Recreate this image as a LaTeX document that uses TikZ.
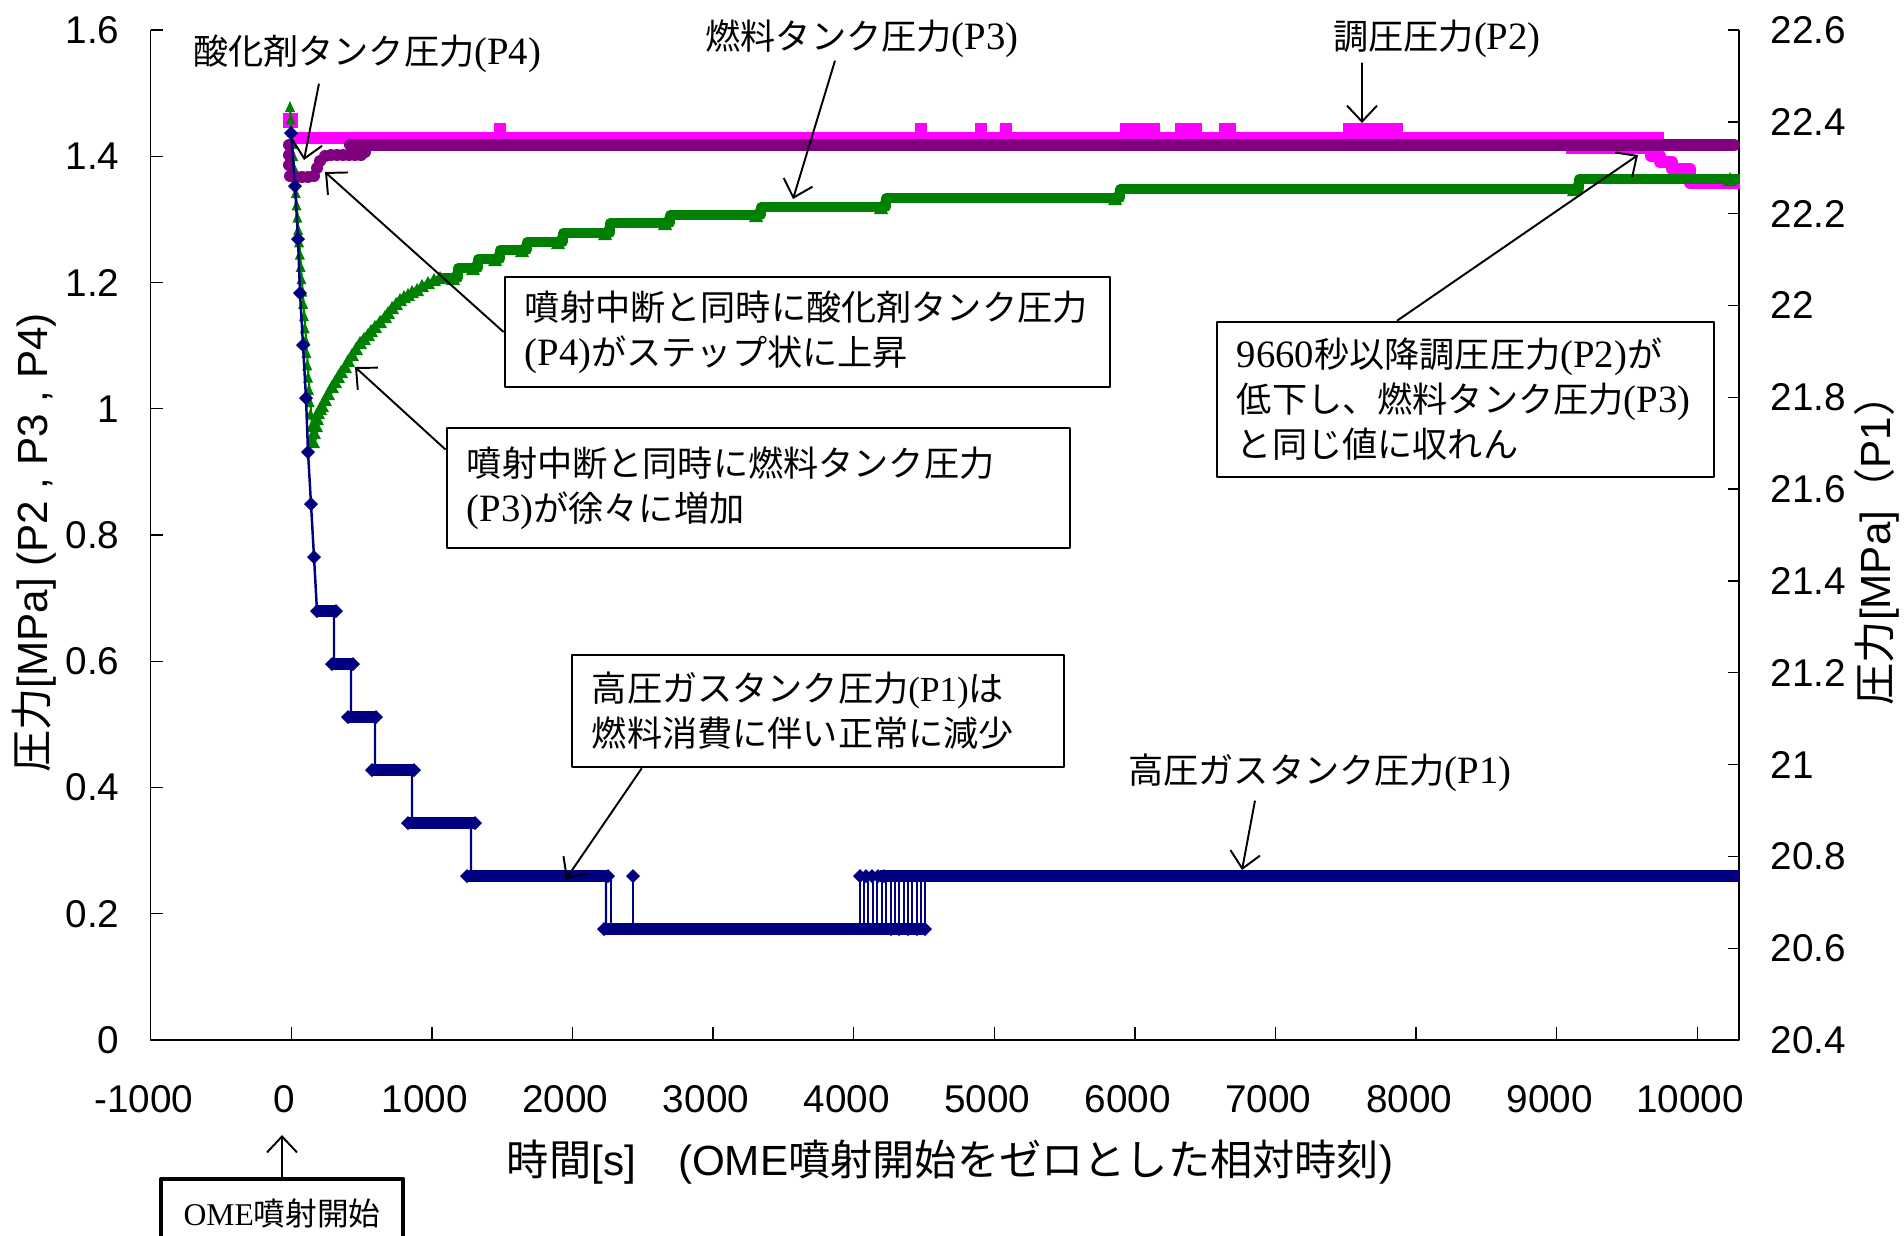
\documentclass[tikz,border=0pt]{standalone}
\usepackage{fontspec}
\setmainfont{Liberation Sans}
\newfontfamily\jpf{Noto Sans CJK JP}
\newfontfamily\tms{Liberation Serif}
\newcommand\ptag[1]{{\tms\fontsize{11}{12.8}\selectfont #1}}
\usetikzlibrary{arrows.meta}
\definecolor{pmag}{RGB}{255,0,255}
\definecolor{ppur}{RGB}{128,0,128}
\definecolor{pgrn}{RGB}{0,128,0}
\definecolor{pnav}{RGB}{0,0,128}
\begin{document}
\begin{tikzpicture}[x=0.01cm,y=-0.01cm,line join=round,>={Straight Barb[length=1.6mm,width=3mm]}]
	\tikzset{tick label/.style={font=\fontsize{11}{13}\selectfont,inner sep=0pt},
		axis title/.style={font=\fontsize{12}{14}\selectfont,inner sep=0pt},
		note/.style={draw,line width=0.7pt,fill=white,align=left,inner xsep=0.2cm,inner ysep=0pt,font=\jpf\fontsize{10}{12.8}\selectfont},
		tag/.style={inner sep=0pt,font=\jpf\fontsize{10}{12.8}\selectfont},
		pointer/.style={->,line width=0.55pt}}
	\path[use as bounding box,fill=white] (0,0) rectangle (1904,1235);
	% axes and ticks
	\draw[line width=0.4pt] (150.6,30)--(150.6,1040)--(1739,1040)--(1739,30);
	\foreach \v [count=\i from 0] in {0,0.2,0.4,0.6,0.8,1,1.2,1.4,1.6}
	{\draw[line width=0.4pt] (150.6,{1040-126.25*\i})--++(12,0);
		\node[tick label,anchor=east] (yl\i) at (120,{1040-126.25*\i}) {\v};}
	\foreach \v [count=\i from 0] in {20.4,20.6,20.8,21,21.2,21.4,21.6,21.8,22,22.2,22.4,22.6}
	{\draw[line width=0.4pt] (1739,{1040-91.82*\i})--++(-11,0);
		\node[tick label,anchor=west] (yr\i) at (1770,{1040-91.82*\i}) {\v};}
	\foreach \v [count=\i from 0] in {-1000,0,1000,2000,3000,4000,5000,6000,7000,8000,9000,10000}
	{\draw[line width=0.4pt] ({150.6+140.6*\i},1040)--++(0,-13);
		\node[tick label] (xl\i) at ({143.6+140.6*\i},1099) {\v};}
	\node[axis title,rotate=90] (yTitle) at (34,543) {{\jpf 圧力}[MPa] (P2 , P3 , P4)};
	\node[axis title,rotate=90] (yTitleR) at (1877,540) {{\jpf 圧力}[MPa]{\jpf （}P1{\jpf ）}};
	\node[axis title] (xTitle) at (950,1162) {{\jpf 時間}[s]\quad(OME{\jpf 噴射開始をゼロとした相対時刻})};
	% P2
	\fill[pmag] (283,113) rectangle (298,128);
	\draw[pmag,line width=0.12cm] (292,138)--(1664,138);
	\foreach \a/\b in {494/506,915/927,975/987,1000/1012,1120/1160,1175/1202,1219/1236,1343/1403}
	\fill[pmag] (\a,123) rectangle (\b,134);
	\draw[pmag,line width=0.12cm] (1566,148)--(1651,148)--(1651,156)--(1660,156)--(1660,162)--(1672,162)--(1672,169)--(1690,169)--(1690,183)--(1740,183);
	% P3
	\draw[pgrn,line width=0.6pt] (290,108)--(313,440);
	\draw[pgrn,line width=0.07cm] (313,440)--(318,413)--(332,387)--(345,367)--(360,343)--(375,327)--(385,317)--(400,300)--(417,290)--(440,278);
	\foreach \i in {0,...,27}
	\fill[pgrn] ({290+0.82*\i},{108+12.3*\i}) ++(-5,4)--++(10,0)--++(-5,-11)--cycle;
	\foreach \x/\y in {313/442,314/433,316/426,317/419,318/413,320/409,322/406,325/400,328/394,332/387,335/382,338/377,341/372,345/367,348/361,352/355,356/349,360/343,364/339,368/335,371/331,375/327,380/322,385/317,388/313,392/308,396/304,400/300,404/297,408/295,412/292,417/290,422/286,428/283,434/280,440/278}
	\fill[pgrn] (\x,\y) ++(-7,6)--++(14,0)--++(-7,-13)--cycle;
	\draw[pgrn,line width=0.095cm] (440,278)--(458,278)--(458,268)--(478,268)--(478,259)--(500,259)--(500,250)--(527,250)--(527,242)--(563,242)--(563,233)--(610,233)--(610,223)--(670,223)--(670,215)--(761,215)--(761,207)--(886,207)--(886,198)--(1120,198)--(1120,189)--(1579,189)--(1579,179)--(1740,179);
	\foreach \x/\y in {458/278,478/268,500/259,527/250,563/242,610/233,670/223,761/215,886/207,1120/198,1579/189,1735/179}
	\fill[pgrn] (\x-5,\y) ++(-7,7)--++(14,0)--++(-7,-14)--cycle;
	% P4
	\foreach \x/\y in {289/145,289/155,289/165,290/176,296/177,302/177,308/177,314/176,317/168,320/161,325/156,331/155,337/155,343/155,349/155,355/155,361/155,365/152}
	\fill[ppur] (\x,\y) circle[radius=6];
	\draw[ppur,line width=0.12cm,line cap=round] (350,145)--(1734,145);
	% P1
	\draw[pnav,line width=0.7pt] (291,133)--(295,186)--(298,239)--(300,293)--(303,345)--(306,398)--(308,452)--(311,504)--(314,557)--(317,611)--(334,611)--(334,664)--(351,664)--(351,717)--(375,717)--(375,770)--(412,770)--(412,823)--(471,823)--(471,876)--(606,876)--(606,929)--(925,929);
	\foreach \x in {611,633,860,864,868,873,877,882,886,891,895,899,904,908,912,917,921,925}
	\draw[pnav,line width=0.6pt] (\x,929)--(\x,876);
	\foreach \a/\b/\y in {317/336/611,332/353/664,348/376/717,372/414/770,408/475/823,467/608/876,604/925/929}
	\draw[pnav,line width=0.115cm] (\a,\y)--(\b,\y);
	\draw[pnav,line width=0.115cm] (880,876)--(1740,876);
	\foreach \x/\y in {291/133,295/186,298/239,300/293,303/345,306/398,308/452,311/504,314/557,317/611,336/611,332/664,353/664,348/717,376/717,372/770,414/770,408/823,475/823,467/876,608/876,604/929,925/929,633/876,860/876,866/876,872/876,878/876,884/876,891/929,899/929,908/929,917/929}
	\fill[pnav] (\x,\y) ++(-7,0)--++(7,-7)--++(7,7)--++(-7,7)--cycle;
	% notes
	\node[tag] (oxLbl) at (367,54) {酸化剤タンク圧力\ptag{(P4)}};
	\coordinate (oxTip) at (304,160);
	\draw[pointer] ([xshift=-0.48cm,yshift=-0.1cm]oxLbl.south)--(oxTip);
	\node[tag] (fuLbl) at (862,39) {燃料タンク圧力\ptag{(P3)}};
	\coordinate (fuTip) at (793,199);
	\draw[pointer] ([xshift=-0.27cm,yshift=-0.02cm]fuLbl.south)--(fuTip);
	\node[tag] (prLbl) at (1437,39) {調圧圧力\ptag{(P2)}};
	\coordinate (prTip) at (1362,123);
	\draw[pointer] ([xshift=-0.75cm,yshift=-0.04cm]prLbl.south)--(prTip);
	\node[tag] (hpLbl) at (1320,773) {高圧ガスタンク圧力\ptag{(P1)}};
	\coordinate (hpTip) at (1242,870);
	\draw[pointer] ([xshift=-0.65cm,yshift=-0.08cm]hpLbl.south)--(hpTip);
	\node[note,text width=5.65cm,minimum height=1.1cm] (oxBox) at (807.5,332) {噴射中断と同時に酸化剤タンク圧力\\\ptag{(P4)}がステップ状に上昇};
	\coordinate (oxDip) at (325,172);
	\draw[pointer] (oxBox.west)--(oxDip);
	\node[note,text width=5.83cm,minimum height=1.2cm] (fuBox) at (758.5,488) {噴射中断と同時に燃料タンク圧力\\\ptag{(P3)}が徐々に増加};
	\coordinate (fuRise) at (355,367);
	\draw[pointer] (fuBox.173)--(fuRise);
	\node[note,text width=4.57cm,minimum height=1.55cm] (prBox) at (1465.5,399.5) {\ptag{9660}秒以降調圧圧力\ptag{(P2)}が\\低下し、燃料タンク圧力\ptag{(P3)}\\と同じ値に収れん};
	\coordinate (prDrop) at (1638,155);
	\draw[pointer] (prBox.131)--(prDrop);
	\node[note,text width=4.52cm,minimum height=1.12cm] (hpBox) at (818,711) {高圧ガスタンク圧力{\tms(P1)}は\\燃料消費に伴い正常に減少};
	\coordinate (hpStep) at (566,879);
	\draw[pointer] (hpBox.198)--(hpStep);
	\node[draw,line width=1.2pt,fill=white,minimum width=2.42cm,minimum height=0.68cm,anchor=north,inner sep=0pt,font=\fontsize{9}{11}\selectfont] (omeBox) at (282,1177) {{\tms OME}{\jpf 噴射開始}};
	\coordinate (omeTip) at (282,1135);
	\draw[pointer] (omeBox.north)--(omeTip);
\end{tikzpicture}
\end{document}
